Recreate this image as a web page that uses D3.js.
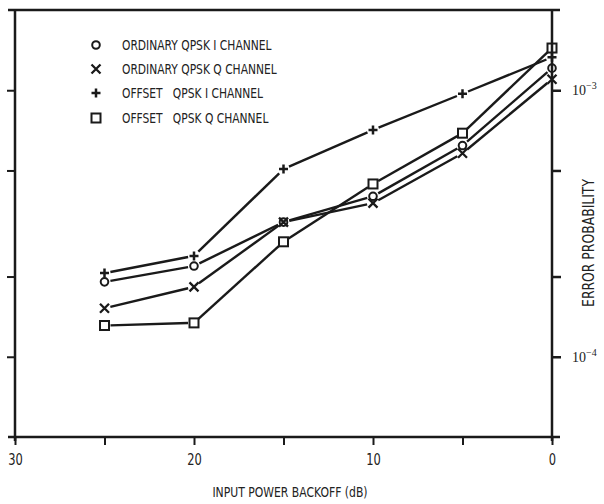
<!DOCTYPE html>
<html>
<head>
<meta charset="utf-8">
<script src="https://cdn.jsdelivr.net/npm/d3@7"></script>
<style>
  body { margin: 0; background: #fff; }
  svg text { font-family: 'Liberation Sans Narrow', 'DejaVu Sans Condensed', 'Arial Narrow', sans-serif; fill: #222; }
  .sup { font-family: 'Liberation Serif', 'DejaVu Serif', serif; }
</style>
</head>
<body>
<div id="chart"></div>
<script>
// input power backoff (dB)
const backoff = [25, 20, 15, 10, 5, 0]

// error probability per series
const ordinaryI = [1.91e-4, 2.19e-4, 3.2e-4, 4.0e-4, 6.2e-4, 1.21e-3]
const ordinaryQ = [1.52e-4, 1.83e-4, 3.2e-4, 3.77e-4, 5.8e-4, 1.10e-3]
const offsetI = [2.06e-4, 2.39e-4, 5.06e-4, 7.1e-4, 9.7e-4, 1.33e-3]
const offsetQ = [1.31e-4, 1.34e-4, 2.7e-4, 4.45e-4, 6.9e-4, 1.44e-3]

const seriesNames = ['ORDINARY QPSK I CHANNEL', 'ORDINARY QPSK Q CHANNEL', 'OFFSET   QPSK I CHANNEL', 'OFFSET   QPSK Q CHANNEL']
const seriesMarkers = ['circle', 'cross', 'plus', 'square']

const xTicks = [30, 25, 20, 15, 10, 5, 0]
const xTickLabels = [30, 20, 10, 0]
const yTicks = [1e-3, 5e-4, 2e-4, 1e-4]
const yTickLabels = [{ v: 1e-3, exp: '\u22123' }, { v: 1e-4, exp: '\u22124' }]

const width = 604
const height = 504
const plotLeft = 15
const plotRight = 552
const plotTop = 10
const plotBottom = 437

const svg = d3.select('#chart')
  .append('svg')
  .attr('width', width)
  .attr('height', height)

const x = d3.scaleLinear().domain([30, 0]).range([plotLeft, plotRight])
const y = d3.scaleLog().domain([5e-5, 2e-3]).range([plotBottom, plotTop])

const ink = '#1a1a1a'

// squeeze a label to look like the condensed typewriter-era lettering
const condense = function (sel, factor) {
  sel.each(function () {
    const len = this.getComputedTextLength()
    d3.select(this).attr('textLength', len * factor).attr('lengthAdjust', 'spacingAndGlyphs')
  })
}

// frame
svg.append('line').attr('x1', plotLeft - 7).attr('x2', plotRight + 8).attr('y1', plotTop).attr('y2', plotTop)
  .style('stroke', ink).style('stroke-width', 2.5)
svg.append('line').attr('x1', plotLeft - 7).attr('x2', plotRight + 8).attr('y1', plotBottom).attr('y2', plotBottom)
  .style('stroke', ink).style('stroke-width', 2.5)
svg.append('line').attr('x1', plotLeft).attr('x2', plotLeft).attr('y1', plotTop).attr('y2', plotBottom + 4)
  .style('stroke', ink).style('stroke-width', 2.5)
svg.append('line').attr('x1', plotRight).attr('x2', plotRight).attr('y1', plotTop).attr('y2', plotBottom + 4)
  .style('stroke', ink).style('stroke-width', 2.5)

// bottom axis
const xAxis = svg.append('g')
  .attr('transform', 'translate(0,' + plotBottom + ')')
  .call(d3.axisBottom(x).tickValues(xTicks).tickSize(8)
    .tickFormat(d => xTickLabels.includes(d) ? d : ''))
xAxis.select('.domain').remove()
xAxis.selectAll('line').style('stroke', ink).style('stroke-width', 2)
xAxis.selectAll('text').style('font-size', '15px').attr('dy', '1.15em')
condense(xAxis.selectAll('text').filter(d => xTickLabels.includes(d)), 0.85)

// left axis
const yLeft = svg.append('g')
  .attr('transform', 'translate(' + plotLeft + ',0)')
  .call(d3.axisLeft(y).tickValues(yTicks).tickSize(8).tickFormat(''))
yLeft.select('.domain').remove()
yLeft.selectAll('line').style('stroke', ink).style('stroke-width', 2)

// right axis
const yRight = svg.append('g')
  .attr('transform', 'translate(' + plotRight + ',0)')
  .call(d3.axisRight(y).tickValues(yTicks).tickSize(9).tickFormat(''))
yRight.select('.domain').remove()
yRight.selectAll('line').style('stroke', ink).style('stroke-width', 2.5)

yTickLabels.forEach(function (t) {
  const txt = svg.append('text')
    .attr('class', 'sup')
    .attr('x', plotRight + 20)
    .attr('y', y(t.v) + 5)
    .style('font-size', '14px')
  txt.append('tspan').text('10')
  txt.append('tspan').attr('dy', -6).style('font-size', '10px').text(t.exp)
})

// axis titles
const xTitle = svg.append('text')
  .attr('x', 290)
  .attr('y', 497)
  .attr('text-anchor', 'middle')
  .style('font-size', '14px')
  .text('INPUT POWER BACKOFF (dB)')
condense(xTitle, 0.86)

const yTitle = svg.append('text')
  .attr('transform', 'translate(594,243) rotate(-90)')
  .attr('text-anchor', 'middle')
  .style('font-size', '16px')
  .text('ERROR PROBABILITY')
condense(yTitle, 0.86)

// markers
const drawMarker = function (g, kind, cx, cy) {
  if (kind === 'circle') {
    g.append('circle').attr('cx', cx).attr('cy', cy).attr('r', 3.8)
      .style('fill', 'none').style('stroke', ink).style('stroke-width', 2)
  } else if (kind === 'square') {
    g.append('rect').attr('x', cx - 4.5).attr('y', cy - 4.5).attr('width', 9).attr('height', 9)
      .style('fill', 'none').style('stroke', ink).style('stroke-width', 2)
  } else if (kind === 'cross') {
    const s = 4.5
    g.append('path')
      .attr('d', 'M' + (cx - s) + ',' + (cy - s) + 'L' + (cx + s) + ',' + (cy + s) +
        'M' + (cx - s) + ',' + (cy + s) + 'L' + (cx + s) + ',' + (cy - s))
      .style('stroke', ink).style('stroke-width', 2.3)
  } else {
    const s = 4.5
    g.append('path')
      .attr('d', 'M' + (cx - s) + ',' + cy + 'L' + (cx + s) + ',' + cy +
        'M' + cx + ',' + (cy - s) + 'L' + cx + ',' + (cy + s))
      .style('stroke', ink).style('stroke-width', 2.5)
  }
}

const allSeries = [ordinaryI, ordinaryQ, offsetI, offsetQ]
const gap = 6

allSeries.forEach(function (vals, si) {
  const g = svg.append('g').attr('class', 'series')
  const pts = vals.map((v, i) => [x(backoff[i]), y(v)])

  // segments stop short of each marker
  for (let i = 0; i < pts.length - 1; i++) {
    const [x0, y0] = pts[i]
    const [x1, y1] = pts[i + 1]
    const len = Math.hypot(x1 - x0, y1 - y0)
    const ux = (x1 - x0) / len
    const uy = (y1 - y0) / len
    g.append('line')
      .attr('x1', x0 + ux * gap).attr('y1', y0 + uy * gap)
      .attr('x2', x1 - ux * gap).attr('y2', y1 - uy * gap)
      .style('stroke', ink).style('stroke-width', 2.4)
  }

  pts.forEach(function (p) {
    drawMarker(g, seriesMarkers[si], p[0], p[1])
  })
})

// legend
const legendY = [45, 69, 93, 118]
const legend = svg.append('g').attr('class', 'legend')
seriesNames.forEach(function (name, i) {
  drawMarker(legend, seriesMarkers[i], 96, legendY[i])
  const t = legend.append('text')
    .attr('x', 122)
    .attr('y', legendY[i] + 5)
    .style('font-size', '14px')
    .style('white-space', 'pre')
    .text(name)
  condense(t, 0.85)
})
</script>
</body>
</html>
